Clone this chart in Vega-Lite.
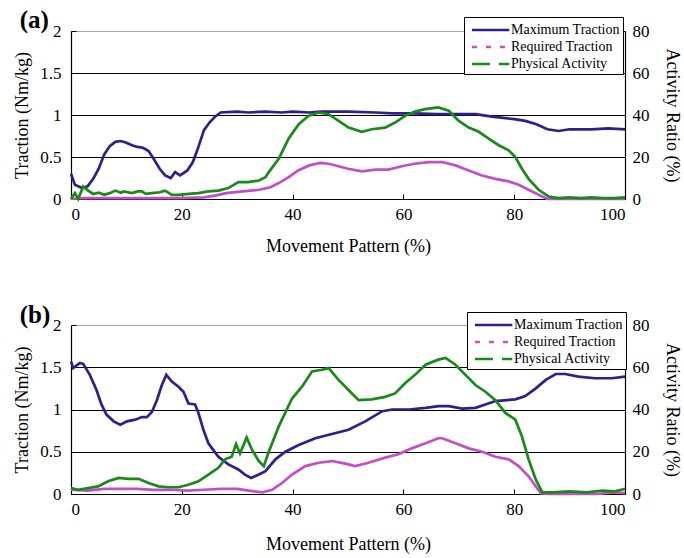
{
  "$schema": "https://vega.github.io/schema/vega-lite/v6.json",
  "padding": {"left": 13, "top": 7, "right": 5, "bottom": 5},
  "config": {
    "font": "Liberation Serif",
    "view": {"stroke": null},
    "axis": {"labelColor": "black", "titleColor": "black", "titleFontWeight": "normal", "labelFontSize": 17, "titleFontSize": 18, "domainColor": "black", "tickColor": "black", "domainWidth": 1.2, "labelFont": "Liberation Serif", "titleFont": "Liberation Serif"},
    "legend": {"labelFont": "Liberation Serif", "labelFontSize": 14, "labelColor": "black"}
  },
  "datasets": {
    "a_max": [
      {"x":0,"v":0.30},{"x":0.7,"v":0.17},{"x":2,"v":0.13},{"x":3,"v":0.15},{"x":4,"v":0.24},{"x":5,"v":0.36},{"x":6,"v":0.53},{"x":7,"v":0.63},{"x":8,"v":0.68},{"x":9,"v":0.69},{"x":10,"v":0.67},{"x":11,"v":0.64},{"x":12,"v":0.62},{"x":13,"v":0.61},{"x":14,"v":0.57},{"x":15,"v":0.47},{"x":16,"v":0.36},{"x":17,"v":0.28},{"x":18,"v":0.25},{"x":18.8,"v":0.32},{"x":19.7,"v":0.28},{"x":21,"v":0.34},{"x":22,"v":0.44},{"x":23,"v":0.62},{"x":24,"v":0.82},{"x":25,"v":0.91},{"x":26,"v":0.98},{"x":27,"v":1.03},{"x":30,"v":1.04},{"x":32,"v":1.03},{"x":35,"v":1.04},{"x":38,"v":1.03},{"x":40,"v":1.04},{"x":43,"v":1.03},{"x":45,"v":1.04},{"x":50,"v":1.04},{"x":55,"v":1.03},{"x":58,"v":1.02},{"x":62,"v":1.02},{"x":66,"v":1.01},{"x":70,"v":1.01},{"x":73,"v":1.01},{"x":76,"v":0.98},{"x":80,"v":0.95},{"x":82,"v":0.93},{"x":84,"v":0.89},{"x":86,"v":0.83},{"x":88,"v":0.81},{"x":90,"v":0.83},{"x":94,"v":0.83},{"x":97,"v":0.84},{"x":100,"v":0.83}
    ],
    "a_req": [
      {"x":0,"v":0},{"x":2,"v":0.01},{"x":10,"v":0.01},{"x":20,"v":0.01},{"x":24,"v":0.02},{"x":26,"v":0.04},{"x":28,"v":0.07},{"x":31,"v":0.09},{"x":34,"v":0.11},{"x":36,"v":0.14},{"x":37.5,"v":0.19},{"x":39.3,"v":0.26},{"x":41,"v":0.34},{"x":43,"v":0.40},{"x":45,"v":0.43},{"x":46.5,"v":0.42},{"x":48.3,"v":0.39},{"x":50,"v":0.36},{"x":52.5,"v":0.33},{"x":55,"v":0.35},{"x":57.3,"v":0.35},{"x":59.7,"v":0.39},{"x":62,"v":0.42},{"x":64.5,"v":0.44},{"x":67,"v":0.44},{"x":69.4,"v":0.40},{"x":71.8,"v":0.34},{"x":74.2,"v":0.28},{"x":76.6,"v":0.24},{"x":79,"v":0.21},{"x":80.8,"v":0.17},{"x":82.6,"v":0.11},{"x":84.4,"v":0.05},{"x":86,"v":0},{"x":100,"v":0}
    ],
    "a_act": [
      {"x":0,"v":0},{"x":0.7,"v":2.8},{"x":1.3,"v":0},{"x":2.2,"v":6},{"x":3.1,"v":4},{"x":4,"v":2.4},{"x":5,"v":3},{"x":6,"v":2},{"x":7,"v":2.8},{"x":8,"v":4},{"x":9,"v":3},{"x":9.5,"v":3.6},{"x":11,"v":2.8},{"x":12,"v":3.6},{"x":12.8,"v":3.6},{"x":13.5,"v":2.4},{"x":14.6,"v":2.8},{"x":16,"v":3.2},{"x":17,"v":4},{"x":18.2,"v":2},{"x":19.4,"v":2},{"x":21.2,"v":2.4},{"x":23,"v":2.8},{"x":24.8,"v":3.6},{"x":26.6,"v":4},{"x":28.4,"v":5.2},{"x":30.2,"v":8},{"x":32,"v":8},{"x":33.9,"v":8.8},{"x":35.1,"v":10.4},{"x":35.7,"v":12.8},{"x":37.5,"v":19.2},{"x":39.3,"v":28.8},{"x":41.1,"v":35.6},{"x":42.9,"v":39.6},{"x":44.7,"v":41.2},{"x":46.5,"v":40.4},{"x":48.3,"v":37.2},{"x":50.1,"v":34},{"x":52.5,"v":32},{"x":54.3,"v":33.2},{"x":56.7,"v":34},{"x":58.5,"v":36.4},{"x":60.3,"v":39.6},{"x":62.1,"v":41.6},{"x":63.9,"v":42.8},{"x":66.3,"v":43.6},{"x":68.2,"v":42},{"x":70,"v":37.2},{"x":71.8,"v":34},{"x":73.6,"v":32},{"x":75.4,"v":28.8},{"x":77.2,"v":25.6},{"x":79,"v":23.2},{"x":80.2,"v":20},{"x":81.4,"v":14.4},{"x":82.6,"v":9.6},{"x":84.4,"v":4.4},{"x":86.2,"v":1.2},{"x":88,"v":0.4},{"x":90,"v":0.8},{"x":92,"v":0.4},{"x":94,"v":0.8},{"x":96,"v":0.4},{"x":98,"v":0.4},{"x":100,"v":0.8}
    ],
    "b_max": [
      {"x":0,"v":1.57},{"x":0.4,"v":1.49},{"x":1.6,"v":1.55},{"x":2.2,"v":1.54},{"x":3.4,"v":1.41},{"x":4.6,"v":1.23},{"x":5.5,"v":1.06},{"x":6.4,"v":0.94},{"x":7.7,"v":0.86},{"x":8.9,"v":0.82},{"x":10.1,"v":0.86},{"x":11.6,"v":0.88},{"x":12.8,"v":0.91},{"x":13.7,"v":0.91},{"x":14.6,"v":0.97},{"x":15.5,"v":1.11},{"x":16.4,"v":1.29},{"x":17.2,"v":1.41},{"x":18.2,"v":1.33},{"x":19.4,"v":1.27},{"x":20.3,"v":1.21},{"x":21.2,"v":1.07},{"x":22.4,"v":1.06},{"x":23,"v":0.96},{"x":23.9,"v":0.76},{"x":24.8,"v":0.60},{"x":26.6,"v":0.44},{"x":28.4,"v":0.35},{"x":30.2,"v":0.29},{"x":31.4,"v":0.23},{"x":32.5,"v":0.19},{"x":33.9,"v":0.23},{"x":35.1,"v":0.27},{"x":36.9,"v":0.41},{"x":38.7,"v":0.50},{"x":41.1,"v":0.58},{"x":44.1,"v":0.66},{"x":47.1,"v":0.71},{"x":50.1,"v":0.76},{"x":53.1,"v":0.86},{"x":56.2,"v":0.98},{"x":58,"v":1.00},{"x":61,"v":1.00},{"x":64,"v":1.02},{"x":66.4,"v":1.04},{"x":68.2,"v":1.04},{"x":70.6,"v":1.01},{"x":73,"v":1.02},{"x":74.8,"v":1.06},{"x":76.6,"v":1.10},{"x":80.2,"v":1.12},{"x":82,"v":1.16},{"x":83.9,"v":1.25},{"x":85.7,"v":1.35},{"x":87.5,"v":1.42},{"x":89.2,"v":1.42},{"x":91.6,"v":1.39},{"x":94.6,"v":1.37},{"x":97.6,"v":1.37},{"x":100,"v":1.39}
    ],
    "b_req": [
      {"x":0,"v":0.05},{"x":3,"v":0.04},{"x":6,"v":0.06},{"x":9,"v":0.06},{"x":12,"v":0.06},{"x":15,"v":0.05},{"x":18,"v":0.05},{"x":21,"v":0.04},{"x":24,"v":0.05},{"x":27,"v":0.06},{"x":30,"v":0.06},{"x":32.1,"v":0.04},{"x":34.5,"v":0.02},{"x":36.3,"v":0.05},{"x":38.1,"v":0.13},{"x":39.9,"v":0.23},{"x":42.3,"v":0.33},{"x":44.7,"v":0.37},{"x":47.1,"v":0.39},{"x":49.5,"v":0.36},{"x":51.3,"v":0.33},{"x":53.7,"v":0.37},{"x":56.7,"v":0.43},{"x":59.1,"v":0.47},{"x":61.5,"v":0.54},{"x":64,"v":0.60},{"x":66.3,"v":0.66},{"x":67,"v":0.66},{"x":69.4,"v":0.60},{"x":71.8,"v":0.54},{"x":74.2,"v":0.50},{"x":76.6,"v":0.44},{"x":79,"v":0.41},{"x":80.8,"v":0.33},{"x":82.6,"v":0.21},{"x":83.9,"v":0.09},{"x":84.8,"v":0.01},{"x":86,"v":0},{"x":95,"v":0},{"x":98,"v":0.02},{"x":100,"v":0.01}
    ],
    "b_act": [
      {"x":0,"v":2.8},{"x":1.3,"v":2},{"x":3.1,"v":2.8},{"x":4.9,"v":3.6},{"x":6.7,"v":6},{"x":8.6,"v":7.6},{"x":10.4,"v":7.2},{"x":12.2,"v":7.2},{"x":14,"v":5.2},{"x":15.8,"v":3.6},{"x":17.6,"v":3.2},{"x":19.4,"v":3.2},{"x":21.2,"v":4.4},{"x":23,"v":6},{"x":24.8,"v":9.2},{"x":26.6,"v":12.4},{"x":27.8,"v":16.4},{"x":29,"v":17.6},{"x":29.8,"v":23.6},{"x":30.5,"v":19.2},{"x":31.7,"v":26.8},{"x":32.7,"v":20.8},{"x":33.9,"v":15.6},{"x":34.8,"v":13.2},{"x":35.7,"v":20},{"x":37.5,"v":32},{"x":39.9,"v":45.2},{"x":41.7,"v":50.8},{"x":43.5,"v":58},{"x":45.3,"v":58.8},{"x":46.5,"v":59.6},{"x":48.3,"v":54},{"x":50.1,"v":49.2},{"x":51.9,"v":44.4},{"x":54.3,"v":44.8},{"x":56.7,"v":46},{"x":58.5,"v":47.6},{"x":60.3,"v":52.4},{"x":62.1,"v":56.4},{"x":64,"v":61.2},{"x":66.3,"v":63.6},{"x":67.6,"v":64.4},{"x":69.4,"v":61.2},{"x":71.2,"v":56.4},{"x":73,"v":51.6},{"x":74.8,"v":48.4},{"x":76.6,"v":44.4},{"x":78.4,"v":38.4},{"x":80.2,"v":35.2},{"x":81.4,"v":27.2},{"x":82.6,"v":16.4},{"x":83.9,"v":6.8},{"x":85.1,"v":0.8},{"x":87,"v":0.8},{"x":90,"v":1.2},{"x":93,"v":0.8},{"x":96,"v":1.6},{"x":98,"v":1.2},{"x":100,"v":2.4}
    ]
  },
  "vconcat": [
    {
      "width": 554, "height": 168,
      "title": {"text": "(a)", "anchor": "start", "frame": "bounds", "fontSize": 25, "fontWeight": "bold", "font": "Liberation Serif", "color": "black", "offset": -16, "dx": 6},
      "layer": [
        {
          "layer": [
            {"data": {"name": "a_max"}, "mark": {"type": "line", "strokeWidth": 2.7},
             "encoding": {
               "x": {"field": "x", "type": "quantitative", "scale": {"domain": [0, 100], "nice": false}, "axis": {"values": [0, 20, 40, 60, 80, 100], "title": "Movement Pattern (%)", "grid": false, "tickSize": -5, "labelPadding": 12, "titlePadding": 15}},
               "y": {"field": "v", "type": "quantitative", "scale": {"domain": [0, 2], "nice": false}, "axis": {"values": [0, 0.5, 1, 1.5, 2], "format": "~g", "title": "Traction (Nm/kg)", "grid": true, "gridColor": {"condition": {"test": "datum.value >= 1.9", "value": "#a8a8a8"}, "value": "black"}, "gridOpacity": 1, "gridWidth": 1.2, "tickSize": -5, "labelPadding": 15, "titlePadding": 8}},
               "color": {"datum": "Maximum Traction", "type": "nominal", "scale": {"domain": ["Maximum Traction", "Required Traction", "Physical Activity"], "range": ["#2d1f8c", "#c24fc4", "#178a17"]},
                 "legend": {"title": null, "orient": "none", "legendX": 393, "legendY": -14, "symbolType": "M-0.6,0H3.8", "symbolSize": 289, "symbolStrokeWidth": 2.5, "strokeColor": "black", "fillColor": "white", "padding": 3, "rowPadding": 0, "labelOffset": 24,
                   "encode": {"symbols": {"update": {"strokeDash": {"signal": "datum.value === 'Required Traction' ? [5,9] : datum.value === 'Physical Activity' ? [18,9,5,0] : [1,0]"}}}}}}
             }},
            {"data": {"name": "a_req"}, "mark": {"type": "line", "strokeWidth": 2.7},
             "encoding": {"x": {"field": "x", "type": "quantitative"}, "y": {"field": "v", "type": "quantitative"}, "color": {"datum": "Required Traction", "type": "nominal"}}}
          ]
        },
        {"data": {"name": "a_act"}, "mark": {"type": "line", "strokeWidth": 2.7},
         "encoding": {"x": {"field": "x", "type": "quantitative"},
           "y": {"field": "v", "type": "quantitative", "scale": {"domain": [0, 80], "nice": false}, "axis": {"orient": "right", "values": [0, 20, 40, 60, 80], "title": "Activity Ratio (%)", "grid": false, "tickSize": -5, "labelPadding": 12, "titlePadding": 13}},
           "color": {"datum": "Physical Activity", "type": "nominal"}}}
      ],
      "resolve": {"scale": {"y": "independent"}}
    },
    {
      "width": 554, "height": 169,
      "title": {"text": "(b)", "anchor": "start", "frame": "bounds", "fontSize": 25, "fontWeight": "bold", "font": "Liberation Serif", "color": "black", "offset": -16, "dx": 6},
      "layer": [
        {
          "layer": [
            {"data": {"name": "b_max"}, "mark": {"type": "line", "strokeWidth": 2.7},
             "encoding": {
               "x": {"field": "x", "type": "quantitative", "scale": {"domain": [0, 100], "nice": false}, "axis": {"values": [0, 20, 40, 60, 80, 100], "title": "Movement Pattern (%)", "grid": false, "tickSize": -5, "labelPadding": 12, "titlePadding": 18}},
               "y": {"field": "v", "type": "quantitative", "scale": {"domain": [0, 2], "nice": false}, "axis": {"values": [0, 0.5, 1, 1.5, 2], "format": "~g", "title": "Traction (Nm/kg)", "grid": true, "gridColor": {"condition": {"test": "datum.value >= 1.9", "value": "#a8a8a8"}, "value": "black"}, "gridOpacity": 1, "gridWidth": 1.2, "tickSize": -5, "labelPadding": 15, "titlePadding": 8}},
               "color": {"datum": "Maximum Traction", "type": "nominal", "scale": {"domain": ["Maximum Traction", "Required Traction", "Physical Activity"], "range": ["#2d1f8c", "#c24fc4", "#178a17"]},
                 "legend": {"title": null, "orient": "none", "legendX": 396, "legendY": -13, "symbolType": "M-0.6,0H3.8", "symbolSize": 289, "symbolStrokeWidth": 2.5, "strokeColor": "black", "fillColor": "white", "padding": 3, "rowPadding": 0, "labelOffset": 24,
                   "encode": {"symbols": {"update": {"strokeDash": {"signal": "datum.value === 'Required Traction' ? [5,9] : datum.value === 'Physical Activity' ? [18,9,5,0] : [1,0]"}}}}}}
             }},
            {"data": {"name": "b_req"}, "mark": {"type": "line", "strokeWidth": 2.7},
             "encoding": {"x": {"field": "x", "type": "quantitative"}, "y": {"field": "v", "type": "quantitative"}, "color": {"datum": "Required Traction", "type": "nominal"}}}
          ]
        },
        {"data": {"name": "b_act"}, "mark": {"type": "line", "strokeWidth": 2.7},
         "encoding": {"x": {"field": "x", "type": "quantitative"},
           "y": {"field": "v", "type": "quantitative", "scale": {"domain": [0, 80], "nice": false}, "axis": {"orient": "right", "values": [0, 20, 40, 60, 80], "title": "Activity Ratio (%)", "grid": false, "tickSize": -5, "labelPadding": 12, "titlePadding": 13}},
           "color": {"datum": "Physical Activity", "type": "nominal"}}}
      ],
      "resolve": {"scale": {"y": "independent"}}
    }
  ],
  "resolve": {"scale": {"color": "independent"}},
  "spacing": 47
}
